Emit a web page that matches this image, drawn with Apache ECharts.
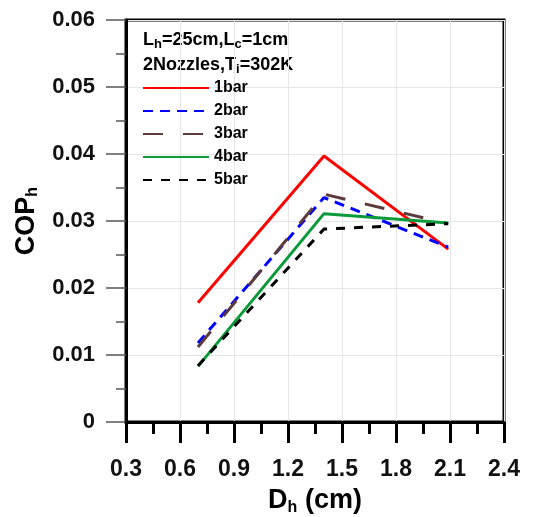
<!DOCTYPE html>
<html>
<head>
<meta charset="utf-8">
<script src="https://cdn.jsdelivr.net/npm/echarts@6/dist/echarts.min.js"></script>
<style>
  html, body { margin: 0; padding: 0; background: #fff; }
  #chart { width: 553px; height: 517px; }
</style>
</head>
<body>
<div id="chart"></div>
<script>
var dh = [0.7, 1.4, 2.09];
var names = ['1bar', '2bar', '3bar', '4bar', '5bar'];
var bar1 = [0.0178, 0.0397, 0.0258];
var bar2 = [0.0118, 0.0335, 0.0261];
var bar3 = [0.0112, 0.0340, 0.0296];
var bar4 = [0.0083, 0.0311, 0.0297];
var bar5 = [0.0084, 0.0288, 0.0296];

var font = 'Liberation Sans, Arial, sans-serif';

function pairs(ys) {
  return dh.map(function (x, i) { return [x, ys[i]]; });
}

function line(name, ys, color, type) {
  return {
    name: name,
    type: 'line',
    data: pairs(ys),
    symbol: 'none',
    lineStyle: { color: color, width: 3, type: type },
    itemStyle: { color: color }
  };
}

// subscript styles for rich text
var headRich = {
  n: { fontFamily: font, fontSize: 18, fontWeight: 'bold', fill: '#000', lineHeight: 22 },
  s: { fontFamily: font, fontSize: 13, fontWeight: 'bold', fill: '#000', lineHeight: 13, padding: [9, 0, 0, 0] }
};

var chart = echarts.init(document.getElementById('chart'), null, { renderer: 'canvas' });
chart.setOption({
  animation: false,
  grid: {
    left: 126, right: 49, top: 20, bottom: 95,
    outerBoundsMode: 'none',
    show: true, borderColor: '#000', borderWidth: 3
  },
  legend: {
    data: names,
    orient: 'vertical',
    left: 142,
    top: 80,
    padding: 0,
    itemWidth: 66,
    itemHeight: 14,
    itemGap: 7,
    itemStyle: { opacity: 0 },
    textStyle: { fontFamily: font, fontSize: 16, fontWeight: 'bold', color: '#000' }
  },
  graphic: [
    {
      type: 'text', left: 143, top: 29,
      style: { text: '{n|L}{s|h}{n|=25cm,L}{s|c}{n|=1cm}', rich: headRich }
    },
    {
      type: 'text', left: 143, top: 54,
      style: { text: '{n|2Nozzles,T}{s|i}{n|=302K}', rich: headRich }
    }
  ],
  xAxis: {
    type: 'value',
    min: 0.3, max: 2.4, interval: 0.3,
    name: 'D{s|h} (cm)',
    nameLocation: 'middle',
    nameGap: 62,
    nameTextStyle: {
      fontFamily: font, fontSize: 27, fontWeight: 'bold', color: '#000', lineHeight: 30,
      rich: {
        s: { fontFamily: font, fontSize: 16, fontWeight: 'bold', color: '#000', lineHeight: 16, padding: [13, 0, 0, 0] }
      }
    },
    axisLine: { show: true, lineStyle: { color: '#000', width: 3 } },
    axisTick: { show: true, length: 21, lineStyle: { color: '#000', width: 3 } },
    minorTick: { show: true, splitNumber: 2, length: 12, lineStyle: { color: '#000', width: 3 } },
    axisLabel: {
      margin: 36,
      fontFamily: font, fontSize: 23, fontWeight: 'bold', color: '#111',
      formatter: function (v) { return v.toFixed(1); }
    },
    splitLine: { show: true, lineStyle: { color: '#e6e6e6', width: 1 } }
  },
  yAxis: {
    type: 'value',
    min: 0, max: 0.06, interval: 0.01,
    name: 'COP{s|h}',
    nameLocation: 'middle',
    nameGap: 80,
    nameTextStyle: {
      fontFamily: font, fontSize: 27, fontWeight: 'bold', color: '#000', lineHeight: 30,
      rich: {
        s: { fontFamily: font, fontSize: 16, fontWeight: 'bold', color: '#000', lineHeight: 16, padding: [13, 0, 0, 0] }
      }
    },
    axisLine: { show: true, lineStyle: { color: '#000', width: 3 } },
    axisTick: { show: true, length: 20, lineStyle: { color: '#555', width: 1.5 } },
    minorTick: { show: true, splitNumber: 2, length: 10, lineStyle: { color: '#555', width: 1.5 } },
    axisLabel: {
      margin: 31,
      fontFamily: font, fontSize: 22, fontWeight: 'bold', color: '#111',
      formatter: function (v) { return v === 0 ? '0' : v.toFixed(2); }
    },
    splitLine: { show: true, lineStyle: { color: '#e6e6e6', width: 1 } }
  },
  series: [
    line('1bar', bar1, '#ff0000', 'solid'),
    line('2bar', bar2, '#0000ff', [10, 7]),
    line('3bar', bar3, '#5e3b3b', [20, 20]),
    line('4bar', bar4, '#0a9a3a', 'solid'),
    line('5bar', bar5, '#000000', [9, 9])
  ]
});
window.addEventListener('resize', function () { chart.resize(); });
</script>
</body>
</html>
